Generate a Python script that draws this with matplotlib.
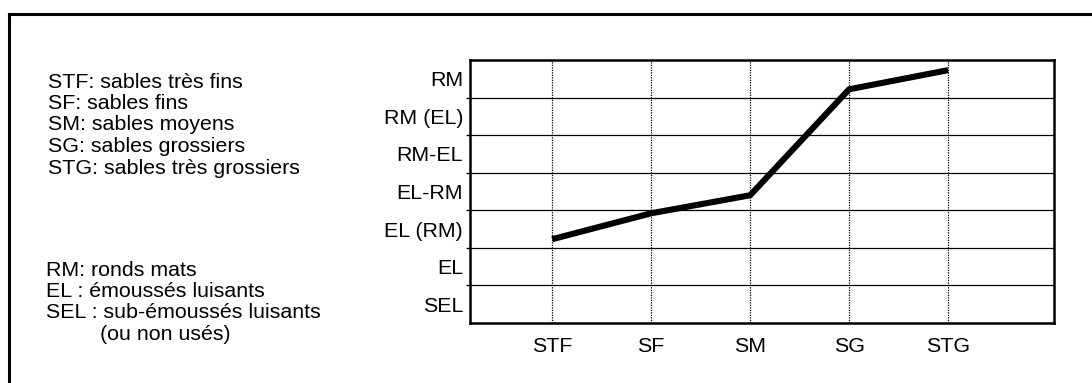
import numpy as np
import matplotlib.pyplot as plt
from matplotlib.lines import Line2D

plt.rcParams['font.family'] = ['Liberation Sans', 'DejaVu Sans']

# data
size_classes = ['STF', 'SF', 'SM', 'SG', 'STG']
shape_levels = ['SEL', 'EL', 'EL (RM)', 'EL-RM', 'RM-EL', 'RM (EL)', 'RM']
shape_score = [2.23, 2.92, 3.40, 6.22, 6.73]

size_legend = ['STF: sables très fins', 'SF: sables fins', 'SM: sables moyens',
               'SG: sables grossiers', 'STG: sables très grossiers']
shape_legend = ['RM: ronds mats', 'EL : émoussés luisants',
                'SEL : sub-émoussés luisants', '(ou non usés)']

FS = 15.4

fig = plt.figure(figsize=(10.92, 3.83), dpi=100)

# outer frame (only top and left edges fall inside the picture)
fig.add_artist(Line2D([9 / 1092, 9 / 1092], [0, 1 - 14 / 383], color='black', lw=2.2,
                      transform=fig.transFigure))
fig.add_artist(Line2D([9 / 1092, 1], [1 - 14 / 383, 1 - 14 / 383], color='black', lw=2.2,
                      transform=fig.transFigure))

ax = fig.add_axes([470 / 1092, 60 / 383, 584 / 1092, 263 / 383])
x = np.arange(len(size_classes))
ax.plot(x, shape_score, color='black', lw=4.4, solid_capstyle='butt', zorder=3)

ax.set_xlim(-0.83, 5.07)
ax.set_ylim(0, len(shape_levels))
ax.set_xticks(x)
ax.set_xticklabels(size_classes, fontsize=FS)
ax.tick_params(axis='x', length=0, pad=10)
ax.set_yticks(np.arange(len(shape_levels)) + 0.5)
ax.set_yticklabels(shape_levels, fontsize=FS)
ax.set_yticks(np.arange(1, len(shape_levels)), minor=True)
ax.tick_params(axis='y', which='major', length=0, pad=5)
ax.tick_params(axis='y', which='minor', length=3, width=1, direction='out')

ax.grid(axis='y', which='minor', color='black', lw=0.9, ls='-')
ax.grid(axis='x', which='major', color='black', lw=0.9, ls=(0, (1, 1)))
for sp in ax.spines.values():
    sp.set_linewidth(1.8)

# legend text on the left
for i, t in enumerate(size_legend):
    fig.text(48 / 1092, 1 - (82 + 21.5 * i) / 383, t, fontsize=FS, va='center', ha='left')
for i, t in enumerate(shape_legend):
    xl = 100 if t.startswith('(') else 46
    fig.text(xl / 1092, 1 - (270 + 21.5 * i) / 383, t, fontsize=FS, va='center', ha='left')

fig.savefig('out.png', dpi=100)
